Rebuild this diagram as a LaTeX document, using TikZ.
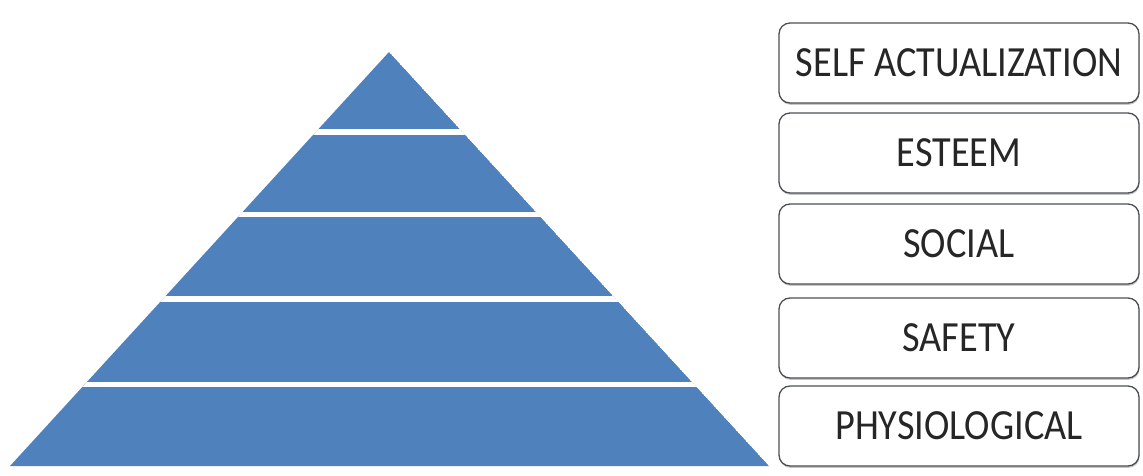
\documentclass[tikz,border=0pt]{standalone}
\usepackage{fontspec}
\setmainfont{Carlito}
\newfontfamily\boxfont[FakeStretch=0.89]{Carlito}
\usetikzlibrary{shadows}
\definecolor{pyrblue}{HTML}{4F81BD}
\definecolor{boxedge}{HTML}{4A4F56}
\tikzset{
  levelbox/.style={draw=boxedge, line width=1.3pt, rounded corners=11pt, fill=white,
    minimum width=360pt, minimum height=80pt, inner sep=0pt,
    font=\boxfont\fontsize{43}{45}\selectfont, text=black!85,
    drop shadow={shadow xshift=0.5pt, shadow yshift=-1.8pt, opacity=0.45}},
  gapline/.style={white, line width=5.5pt}
}
\begin{document}
\begin{tikzpicture}[x=1pt,y=-1pt]
\useasboundingbox (0,0) rectangle (1143,475);
% pyramid
\coordinate (apex) at (389,52);
\coordinate (bl) at (10,466);
\coordinate (br) at (769,466);
\begin{scope}
  \clip (apex) -- (bl) -- (br) -- cycle;
  \fill[pyrblue] (apex) -- (bl) -- (br) -- cycle;
  \draw[gapline] (0,132) -- (800,132);
  \draw[gapline] (0,214.5) -- (800,214.5);
  \draw[gapline] (0,299) -- (800,299);
  \draw[gapline] (0,384.5) -- (800,384.5);
\end{scope}
% boxes
\node[levelbox] (self) at (959,63) {SELF ACTUALIZATION};
\node[levelbox] (esteem) at (959,153) {ESTEEM};
\node[levelbox] (social) at (959,244) {SOCIAL};
\node[levelbox] (safety) at (959,338) {SAFETY};
\node[levelbox] (phys) at (959,426) {PHYSIOLOGICAL};
\end{tikzpicture}
\end{document}
